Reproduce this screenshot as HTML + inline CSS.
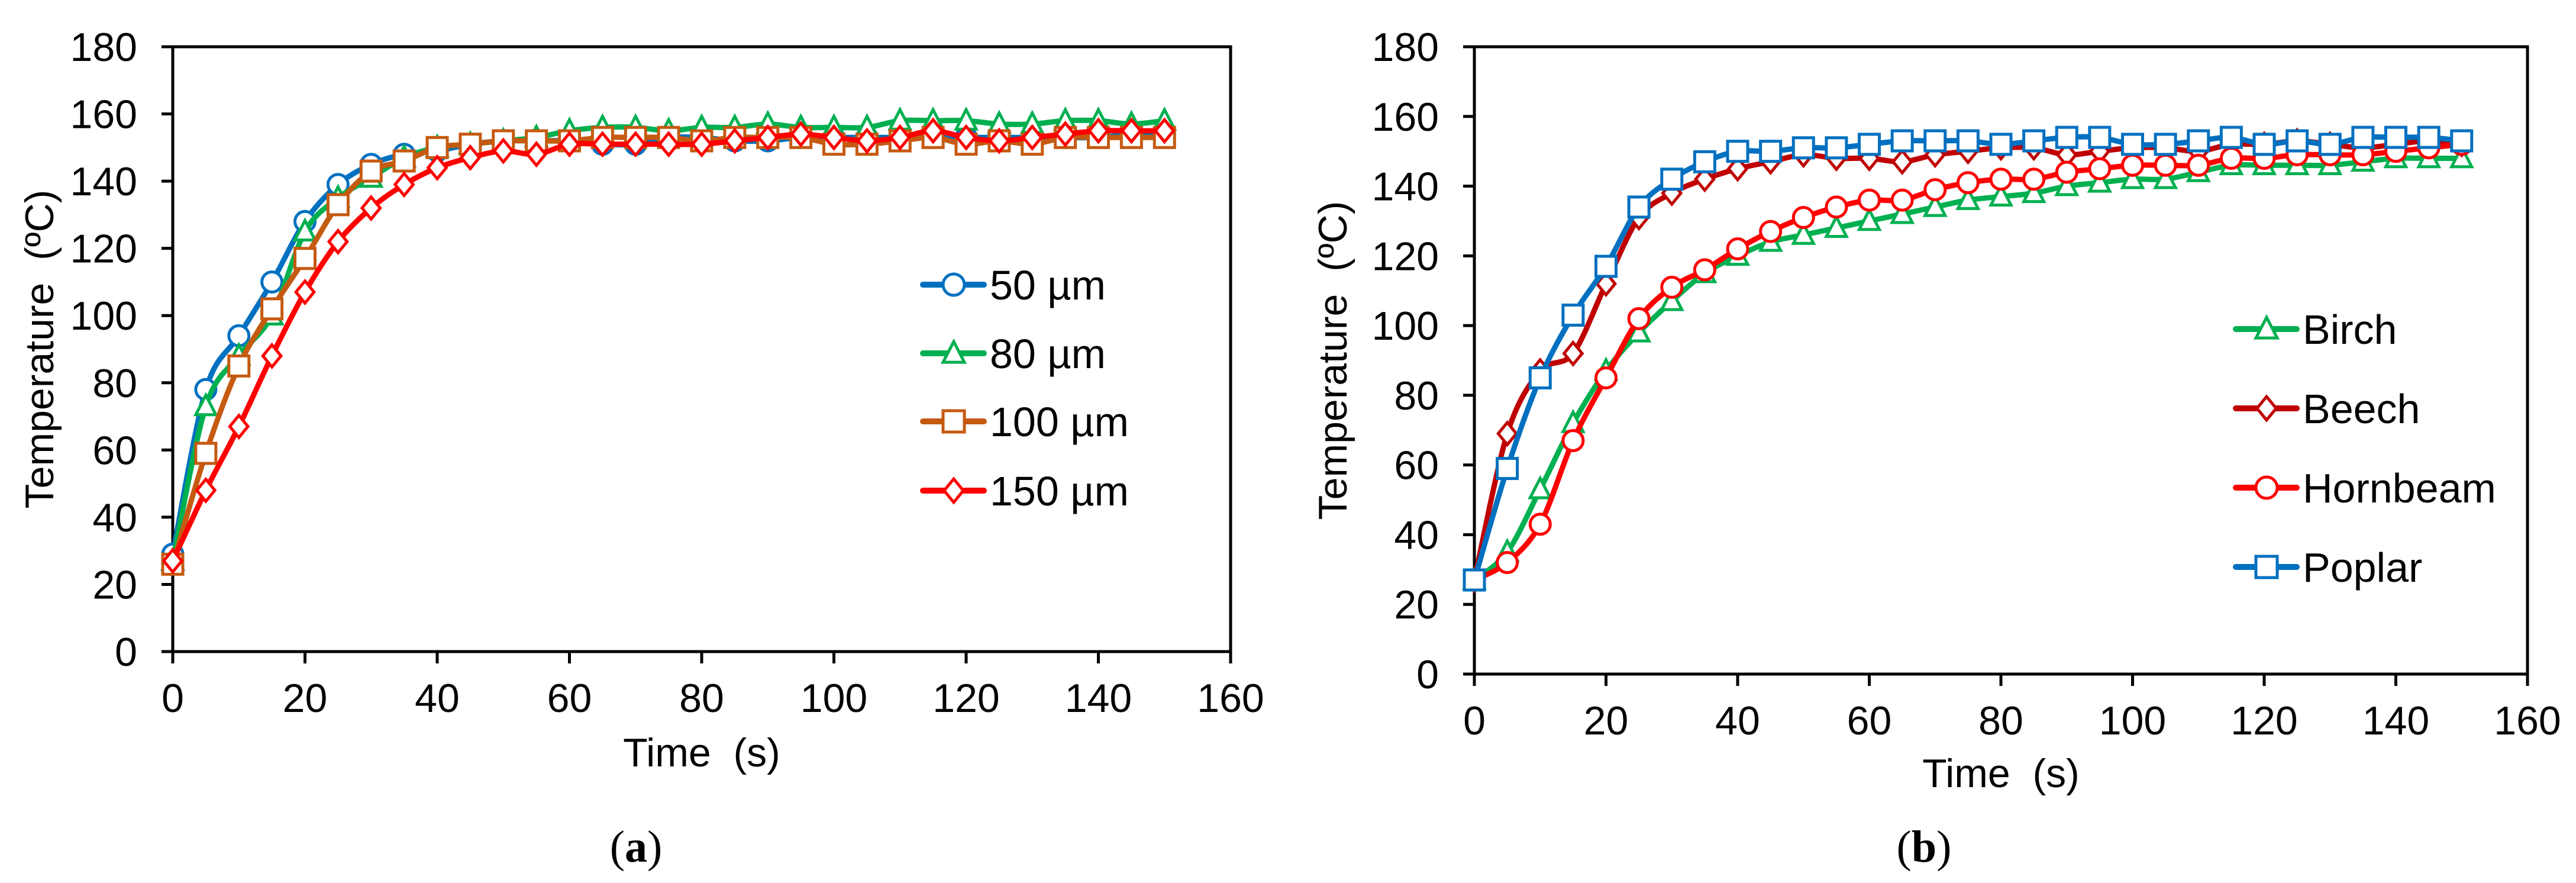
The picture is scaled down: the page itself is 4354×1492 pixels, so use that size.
<!DOCTYPE html>
<html><head><meta charset="utf-8">
<style>
html,body{margin:0;padding:0;background:#fff;}
svg{display:block;font-family:"Liberation Sans",sans-serif;}
</style></head>
<body>
<svg id="fig" width="4354" height="1492" viewBox="0 0 4354 1492" xmlns="http://www.w3.org/2000/svg">
<rect width="4354" height="1492" fill="#fff"/>
</svg>
<script>
const xs = [0,5,10,15,20,25,30,35,40,45,50,55,60,65,70,75,80,85,90,95,100,105,110,115,120,125,130,135,140,145,150];
const xTicks = [0,20,40,60,80,100,120,140,160];
const yTicks = [0,20,40,60,80,100,120,140,160,180];
const aNames = ["50 µm","80 µm","100 µm","150 µm"];
const a50 = [29,78,94,110,128,139,145,148,149,151,152,152,152,151,151,153,153,152,152,153,153,153,153,153,153,153,153,153,153,154,154];
const a80 = [27,73,88,100,125,135,141,147,150,151,152,153,155,156,156,155,156,156,157,156,156,156,158,158,158,157,157,158,158,157,158];
const a100 = [26,59,85,102,117,133,143,146,150,151,152,152,152,153,153,153,152,153,153,153,151,151,152,153,151,152,151,153,153,153,153];
const a150 = [27,48,67,88,107,122,132,139,144,147,149,148,151,151,151,151,151,152,153,154,153,152,153,155,153,152,153,154,155,155,155];
const bNames = ["Birch","Beech","Hornbeam","Poplar"];
const bBirch = [27,35,53,72,87,98,107,115,120,124,126,128,130,132,134,136,137,138,140,141,142,142,144,146,146,146,146,147,148,148,148];
const bBeech = [27,69,87,92,112,131,138,142,145,147,149,148,148,147,149,150,151,151,149,150,151,151,150,152,152,153,152,151,152,153,152];
const bHorn = [27,32,43,67,85,102,111,116,122,127,131,134,136,136,139,141,142,142,144,145,146,146,146,148,148,149,149,149,150,151,152];
const bPoplar = [27,59,85,103,117,134,142,147,150,150,151,151,152,153,153,153,152,153,154,154,152,152,153,154,152,153,152,154,154,154,153];

const NS="http://www.w3.org/2000/svg";
const svg=document.getElementById('fig');
function mk(tag,attrs,parent){const e=document.createElementNS(NS,tag);for(const k in attrs)e.setAttribute(k,attrs[k]);(parent||svg).appendChild(e);return e;}

function marker(g,type,cx,cy,color,s){
  let e;
  if(type==='circle') e=mk('circle',{cx:cx,cy:cy,r:s*0.5,fill:'#fff',stroke:color,'stroke-width':5},g);
  else if(type==='square') e=mk('rect',{x:cx-s/2,y:cy-s/2,width:s,height:s,fill:'#fff',stroke:color,'stroke-width':5},g);
  else if(type==='triangle') e=mk('polygon',{points:`${cx},${cy-s*0.55} ${cx+s*0.5},${cy+s*0.42} ${cx-s*0.5},${cy+s*0.42}`,fill:'#fff',stroke:color,'stroke-width':5},g);
  else e=mk('polygon',{points:`${cx},${cy-s*0.55} ${cx+s*0.45},${cy} ${cx},${cy+s*0.55} ${cx-s*0.45},${cy}`,fill:'#fff',stroke:color,'stroke-width':5},g);
  return e;
}
function smooth(pts){
  let d=`M${pts[0][0]},${pts[0][1]}`;
  for(let i=0;i<pts.length-1;i++){
    const p0=pts[Math.max(0,i-1)],p1=pts[i],p2=pts[i+1],p3=pts[Math.min(pts.length-1,i+2)];
    const t=0.16;
    const c1=[p1[0]+(p2[0]-p0[0])*t,p1[1]+(p2[1]-p0[1])*t];
    const c2=[p2[0]-(p3[0]-p1[0])*t,p2[1]-(p3[1]-p1[1])*t];
    d+=` C${c1[0]},${c1[1]} ${c2[0]},${c2[1]} ${p2[0]},${p2[1]}`;
  }
  return d;
}

function panel(cfg){
  const {L,R,T,B,id,series,legX,legY,capX,ytX,ytY,xtY}=cfg;
  const xS=v=>L+(v-0)/160*(R-L);
  const yS=v=>B-(v-0)/180*(B-T);
  const g=mk('g',{});
  
  
  const frame=mk('rect',{x:L,y:T,width:R-L,height:B-T,fill:'none',stroke:'#000','stroke-width':5},g);
  
  
  yTicks.forEach(v=>{
    const t=mk('line',{x1:L-19,x2:L,y1:yS(v),y2:yS(v),stroke:'#000','stroke-width':5},g);
    
    
    const tx=mk('text',{x:L-60,y:yS(v)+24,'text-anchor':'end','font-size':68,fill:'#000'},g);
    tx.textContent=v;
    
    
  });
  xTicks.forEach(v=>{
    const t=mk('line',{x1:xS(v),x2:xS(v),y1:B,y2:B+20,stroke:'#000','stroke-width':5},g);
    
    
    const tx=mk('text',{x:xS(v),y:B+102,'text-anchor':'middle','font-size':68,fill:'#000'},g);
    tx.textContent=v;
    
    
  });
  const yt=mk('text',{x:0,y:0,transform:`translate(${ytX},${ytY}) rotate(-90)`,'text-anchor':'middle','font-size':68,fill:'#000'},g);
  yt.textContent='Temperature\u00a0\u00a0(ºC)';
  
  
  const xt=mk('text',{x:(L+R)/2,y:xtY,'text-anchor':'middle','font-size':68,fill:'#000'},g);
  xt.textContent='Time\u00a0\u00a0(s)';
  
  
  series.forEach(s=>{
    const sg=mk('g',{},g);
    
    
    const pts=xs.map((x,i)=>[xS(x),yS(s.vals[i])]);
    const p=mk('path',{d:smooth(pts),fill:'none',stroke:s.color,'stroke-width':9,'stroke-linejoin':'round'},sg);
    
    
    pts.forEach(pt=>{
      const m=marker(sg,s.type,pt[0],pt[1],s.color,34);
      
      
    });
  });
  series.forEach((s,i)=>{
    const lg=mk('g',{},g);
    
    
    const y=legY[i];
    mk('line',{x1:legX,x2:legX+103,y1:y,y2:y,stroke:s.color,'stroke-width':10,'stroke-linecap':'round'},lg);
    marker(lg,s.type,legX+52,y,s.color,36);
    const t=mk('text',{x:legX+113,y:y+25,'font-size':70,fill:'#000'},lg);
    t.textContent=s.name;
  });
  const cap=mk('text',{x:capX,y:1456,'text-anchor':'middle','font-size':76,'font-family':'"Liberation Serif",serif',fill:'#000'},svg);
  cap.innerHTML=`(<tspan font-weight="bold">${id}</tspan>)`;
  
  
}

panel({id:'a',L:292,R:2080,T:79,B:1101,legX:1560,legY:[481,597,712,829],capX:1075,ytX:90,ytY:590,xtY:1295,
  series:[
    {key:'50um',name:aNames[0],vals:a50,color:'#0070C0',type:'circle'},
    {key:'80um',name:aNames[1],vals:a80,color:'#00B050',type:'triangle'},
    {key:'100um',name:aNames[2],vals:a100,color:'#C55A11',type:'square'},
    {key:'150um',name:aNames[3],vals:a150,color:'#FF0000',type:'diamond'}
  ]});
panel({id:'b',L:2492,R:4272,T:79,B:1139,legX:3779,legY:[556,690,824,958],capX:3252,ytX:2276,ytY:609,xtY:1330,
  series:[
    {key:'birch',name:bNames[0],vals:bBirch,color:'#00B050',type:'triangle'},
    {key:'beech',name:bNames[1],vals:bBeech,color:'#C00000',type:'diamond'},
    {key:'hornbeam',name:bNames[2],vals:bHorn,color:'#FF0000',type:'circle'},
    {key:'poplar',name:bNames[3],vals:bPoplar,color:'#0070C0',type:'square'}
  ]});
</script>
</body></html>
